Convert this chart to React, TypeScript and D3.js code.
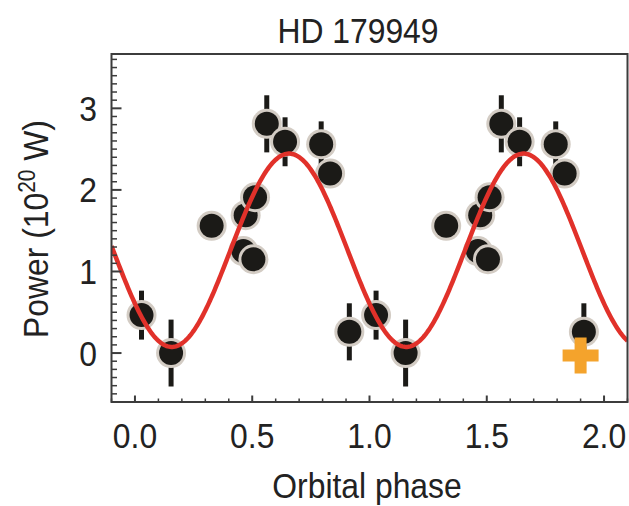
import React from 'react';
import * as d3 from 'd3';

// Measured planet-induced power vs. orbital phase (one cycle, drawn twice)
const phase = [0.028, 0.154, 0.327, 0.462, 0.472, 0.505, 0.512, 0.562, 0.64, 0.794, 0.832, 0.914];
const power = [0.465, 0.0, 1.56, 1.25, 1.69, 1.15, 1.91, 2.81, 2.59, 2.56, 2.2, 0.26];
const powerErr = [0.3, 0.41, 0.1, 0.1, 0.1, 0.1, 0.1, 0.35, 0.3, 0.28, 0.1, 0.35];
const cycles = [0, 1];

// Sinusoidal fit parameters
const fitMean = 1.26;
const fitAmp = 1.185;
const fitPeak = 0.657;

// Highlighted observation
const markerPhase = 1.9;
const markerPower = -0.03;

const xTicks = [0, 0.5, 1, 1.5, 2];
const xTickLabels = ['0.0', '0.5', '1.0', '1.5', '2.0'];
const yTicks = [0, 1, 2, 3];
const yTickLabels = ['0', '1', '2', '3'];

const W = 629;
const H = 506;
const FONT = "'Liberation Sans', Arial, Helvetica, sans-serif";
const FS = 35;
const NARROW = 0.91;

// Text set in a slightly condensed face
function Label({
  x,
  y,
  anchor = 'middle',
  rotate = 0,
  children,
}: {
  x: number;
  y: number;
  anchor?: 'start' | 'middle' | 'end';
  rotate?: number;
  children: React.ReactNode;
}) {
  return (
    <text
      transform={`translate(${x},${y}) rotate(${rotate}) scale(${NARROW},1)`}
      textAnchor={anchor}
      fontSize={FS}
      fill="#222"
    >
      {children}
    </text>
  );
}

export default function App() {
  const x = d3.scaleLinear().domain([-0.1, 2.1]).range([111.5, 627.5]);
  const y = d3.scaleLinear().domain([-0.6, 3.666]).range([402, 54]);

  const [x0, x1] = x.range();
  const [yb, yt] = y.range();

  const points = cycles.flatMap((c) =>
    phase.map((p, i) => ({ px: p + c, pw: power[i], err: powerErr[i] }))
  );

  const fitX = d3.range(-0.1, 2.1001, 0.005);
  const fitLine = d3
    .line<number>()
    .x((d) => x(d))
    .y((d) => y(fitMean + fitAmp * Math.cos(2 * Math.PI * (d - fitPeak))));

  const xMinor = d3
    .range(-1, 22)
    .map((k) => k / 10)
    .filter((v) => Math.abs(v * 2 - Math.round(v * 2)) > 1e-6);
  const yMinor = d3
    .range(-6, 37)
    .map((k) => k / 10)
    .filter((v) => Math.abs(v - Math.round(v)) > 1e-6);

  const cross = d3.symbol(d3.symbolCross, 720)() as string;

  return (
    <svg
      width={W}
      height={H}
      style={{ position: 'absolute', left: 0, top: 0, background: '#fff' }}
      fontFamily={FONT}
    >
      <defs>
        <filter id="soft" x="-50%" y="-50%" width="200%" height="200%">
          <feGaussianBlur stdDeviation="0.6" />
        </filter>
        <clipPath id="plotArea">
          <rect x={x0} y={yt} width={x1 - x0} height={yb - yt} />
        </clipPath>
      </defs>

      {/* title */}
      <Label x={358} y={43}>HD 179949</Label>

      {/* error bars */}
      <g>
        {points.map((d, i) => (
          <line
            key={`e${i}`}
            x1={x(d.px)}
            x2={x(d.px)}
            y1={y(d.pw - d.err)}
            y2={y(d.pw + d.err)}
            stroke="#1b1a17"
            strokeWidth={5}
          />
        ))}
      </g>

      {/* data points */}
      <g>
        {points.map((d, i) => (
          <g key={`p${i}`}>
            <circle cx={x(d.px)} cy={y(d.pw)} r={15} fill="#d3ccc4" filter="url(#soft)" />
            <circle cx={x(d.px)} cy={y(d.pw)} r={12} fill="#1b1a17" />
          </g>
        ))}
      </g>

      {/* fitted sinusoid */}
      <path
        d={fitLine(fitX) as string}
        fill="none"
        stroke="#e1312a"
        strokeWidth={4.5}
        clipPath="url(#plotArea)"
      />

      {/* highlighted observation */}
      <path d={cross} transform={`translate(${x(markerPhase)},${y(markerPower)})`} fill="#f4a32c" />

      {/* frame */}
      <rect x={x0} y={yt} width={x1 - x0} height={yb - yt} fill="none" stroke="#3c3c3c" strokeWidth={2} />

      {/* x ticks */}
      <g stroke="#3c3c3c">
        {xMinor.map((v, i) => (
          <line key={`xm${i}`} x1={x(v)} x2={x(v)} y1={yb} y2={yb - 3.5} strokeWidth={1.5} />
        ))}
        {xTicks.map((v, i) => (
          <line key={`xM${i}`} x1={x(v)} x2={x(v)} y1={yb} y2={yb - 6.5} strokeWidth={2} />
        ))}
      </g>
      {xTicks.map((v, i) => (
        <Label key={`xl${i}`} x={x(v)} y={448}>
          {xTickLabels[i]}
        </Label>
      ))}

      {/* y ticks */}
      <g stroke="#3c3c3c">
        {yMinor.map((v, i) => (
          <line key={`ym${i}`} x1={x0} x2={x0 + 5.5} y1={y(v)} y2={y(v)} strokeWidth={1.5} />
        ))}
        {yTicks.map((v, i) => (
          <line key={`yM${i}`} x1={x0} x2={x0 + 10} y1={y(v)} y2={y(v)} strokeWidth={2} />
        ))}
      </g>
      {yTicks.map((v, i) => (
        <Label key={`yl${i}`} x={97} y={y(v) + 12.5} anchor="end">
          {yTickLabels[i]}
        </Label>
      ))}

      {/* axis titles */}
      <Label x={367} y={498}>Orbital phase</Label>
      <Label x={48} y={229} rotate={-90}>
        Power (10
        <tspan dy={-13} fontSize={23}>
          20
        </tspan>
        <tspan dy={13}> W)</tspan>
      </Label>
    </svg>
  );
}
